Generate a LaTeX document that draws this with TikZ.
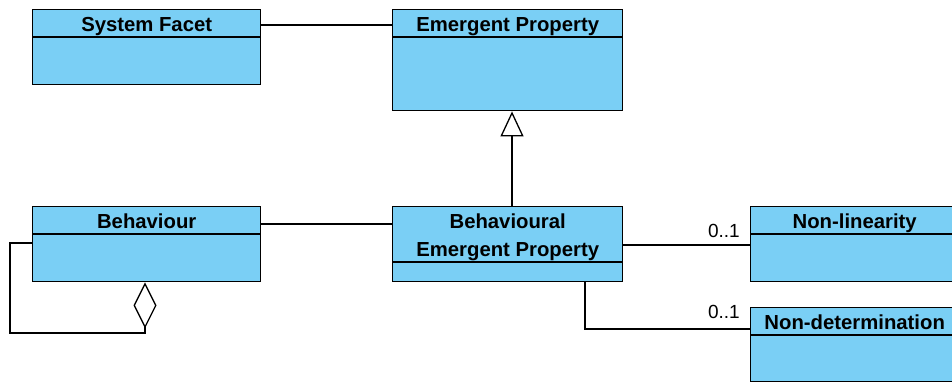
\documentclass[tikz,border=0pt]{standalone}
\usepackage{fontspec}
\setmainfont{Liberation Sans}
\usetikzlibrary{arrows.meta,calc}
\definecolor{classfill}{RGB}{122,207,245}
\tikzset{
  x=1pt,y=-1pt,
  classbox/.style={draw=black,line width=1.4pt,fill=classfill,inner sep=0pt,anchor=north west},
  classtitle/.style={font=\bfseries\fontsize{20.3}{21}\selectfont,inner sep=0pt,align=center,anchor=base},
  conn/.style={line width=1.3pt,draw=black},
  mult/.style={font=\fontsize{19}{20}\selectfont,inner sep=0pt,anchor=east},
}
\begin{document}
\begin{tikzpicture}
\useasboundingbox (0,0) rectangle (952,383);
\clip (0,0) rectangle (952,383);
% System Facet
\node[classbox,minimum width=228pt,minimum height=75pt] (sf) at (32,9) {};
\draw[line width=1.4pt] ([yshift=-28pt]sf.north west) -- ([yshift=-28pt]sf.north east);
\node[classtitle] (sft) at ([yshift=-22pt]sf.north) {System Facet};
% Emergent Property
\node[classbox,minimum width=230pt,minimum height=101pt] (ep) at (392,9) {};
\draw[line width=1.4pt] ([yshift=-28pt]ep.north west) -- ([yshift=-28pt]ep.north east);
\node[classtitle] (ept) at ([yshift=-22pt]ep.north) {Emergent Property};
% Behaviour
\node[classbox,minimum width=228pt,minimum height=75pt] (beh) at (32,206) {};
\draw[line width=1.4pt] ([yshift=-28pt]beh.north west) -- ([yshift=-28pt]beh.north east);
\node[classtitle] (beht) at ([yshift=-22pt]beh.north) {Behaviour};
% Behavioural Emergent Property
\node[classbox,minimum width=230pt,minimum height=75pt] (bep) at (392,206) {};
\draw[line width=1.4pt] ([yshift=-56pt]bep.north west) -- ([yshift=-56pt]bep.north east);
\node[classtitle] (bept1) at ([yshift=-22pt]bep.north) {Behavioural};
\node[classtitle] (bept2) at ([yshift=-50pt]bep.north) {Emergent Property};
% Non-linearity
\node[classbox,minimum width=208pt,minimum height=75pt] (nl) at (750,206) {};
\draw[line width=1.4pt] ([yshift=-28pt]nl.north west) -- ([yshift=-28pt]nl.north east);
\node[classtitle] (nlt) at ([yshift=-22pt]nl.north) {Non-linearity};
% Non-determination
\node[classbox,minimum width=208pt,minimum height=74pt] (nd) at (750,307) {};
\draw[line width=1.4pt] ([yshift=-28pt]nd.north west) -- ([yshift=-28pt]nd.north east);
\node[classtitle] (ndt) at ([yshift=-22pt]nd.north) {Non-determination};
% connectors
\draw[conn] (sf.east |- 0,25) -- (ep.west |- 0,25);
\draw[conn] (beh.east |- 0,224) -- (bep.west |- 0,224);
\draw[conn,-{Triangle[open,length=25pt,width=23pt,line width=1.3pt]}] (bep.north -| 512,0) -- (ep.south -| 512,0);
\draw[conn] (bep.east |- 0,245) -- (nl.west |- 0,245);
\node[mult] (m1) at (740,231) {0..1};
\draw[conn] (bep.south -| 585,0) -- (585,329) -- (nd.west |- 0,329);
\node[mult] (m2) at (740,312) {0..1};
\draw[conn,{Diamond[open,length=46pt,width=23pt,line width=1.3pt]}-] (beh.south -| 145,0) -- (145,333) -- (10,333) -- (10,243) -- (beh.west |- 0,243);
\end{tikzpicture}
\end{document}
